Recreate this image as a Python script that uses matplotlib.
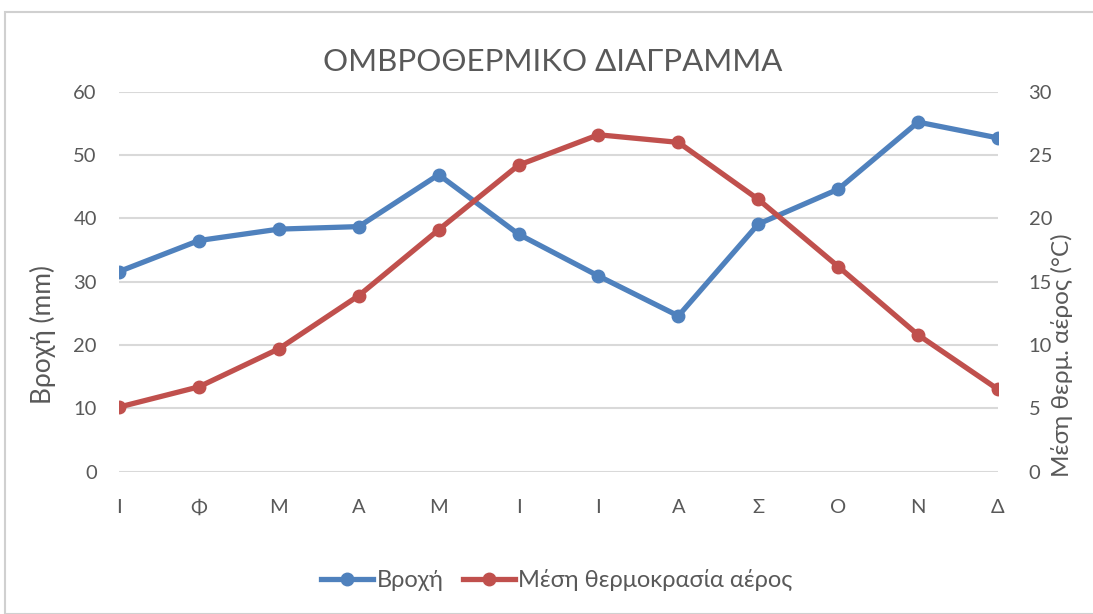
import matplotlib.pyplot as plt
from matplotlib.patches import Rectangle
from matplotlib.lines import Line2D

plt.rcParams['font.family'] = ['Lato', 'DejaVu Sans']

months = ['Ι', 'Φ', 'Μ', 'Α', 'Μ', 'Ι', 'Ι', 'Α', 'Σ', 'Ο', 'Ν', 'Δ']
rain = [31.6, 36.5, 38.3, 38.7, 46.9, 37.5, 30.9, 24.6, 39.1, 44.6, 55.2, 52.7]
temp = [5.1, 6.7, 9.7, 13.9, 19.1, 24.2, 26.6, 26.0, 21.5, 16.2, 10.8, 6.5]

blue = '#4F81BD'
red = '#C0504D'
grey = '#595959'
grid = '#D9D9D9'

W, H = 1093, 614
fig = plt.figure(figsize=(W / 100, H / 100), dpi=100)

# chart frame
fig.patches.append(Rectangle((5 / W, 0), 1.0, 1 - 12 / H, transform=fig.transFigure,
                             fill=False, edgecolor='#D0D0D0', lw=1.5))

ax = fig.add_axes([119 / W, 1 - 471.7 / H, (998 - 119) / W, (471.7 - 91.7) / H])
ax2 = ax.twinx()

x = list(range(len(months)))
ax.plot(x, rain, color=blue, lw=3.8, marker='o', ms=9, zorder=3)
ax2.plot(x, temp, color=red, lw=3.8, marker='o', ms=9, zorder=3)

ax.set_xlim(0, len(months) - 1)
ax.set_ylim(0, 60)
ax2.set_ylim(0, 30)
ax.set_yticks(range(0, 61, 10))
ax2.set_yticks(range(0, 31, 5))
ax.set_xticks(x)
ax.set_xticklabels(months)

for a in (ax, ax2):
    for s in a.spines.values():
        s.set_visible(False)
    a.tick_params(length=0, labelsize=14.5, colors=grey)
ax.tick_params(axis='y', pad=16)
ax.tick_params(axis='x', pad=20)
ax2.tick_params(axis='y', pad=22)

ax.grid(axis='y', color=grid, lw=1.5)
ax.set_axisbelow(True)

# axis titles
fig.text(43 / W, 1 - 334 / H, 'Βροχή (mm)', rotation=90,
         ha='center', va='center', fontsize=19, color=grey)
fig.text(1062 / W, 1 - 355 / H, 'Μέση θερμ. αέρος (°C)', rotation=90,
         ha='center', va='center', fontsize=17.5, color=grey)

fig.text(553 / W, 1 - 62 / H, 'ΟΜΒΡΟΘΕΡΜΙΚΟ ΔΙΑΓΡΑΜΜΑ', ha='center', va='center',
         fontsize=22.5, color=grey)

handles = [Line2D([], [], color=blue, lw=3.8, marker='o', ms=9),
           Line2D([], [], color=red, lw=3.8, marker='o', ms=9)]
fig.legend(handles, ['Βροχή', 'Μέση θερμοκρασία αέρος'], loc='center',
           bbox_to_anchor=(557 / W, 1 - 580 / H), ncol=2, frameon=False,
           fontsize=17, labelcolor=grey, handlelength=2.2, handletextpad=0.15,
           columnspacing=0.8)

fig.savefig('out.png', dpi=100)
